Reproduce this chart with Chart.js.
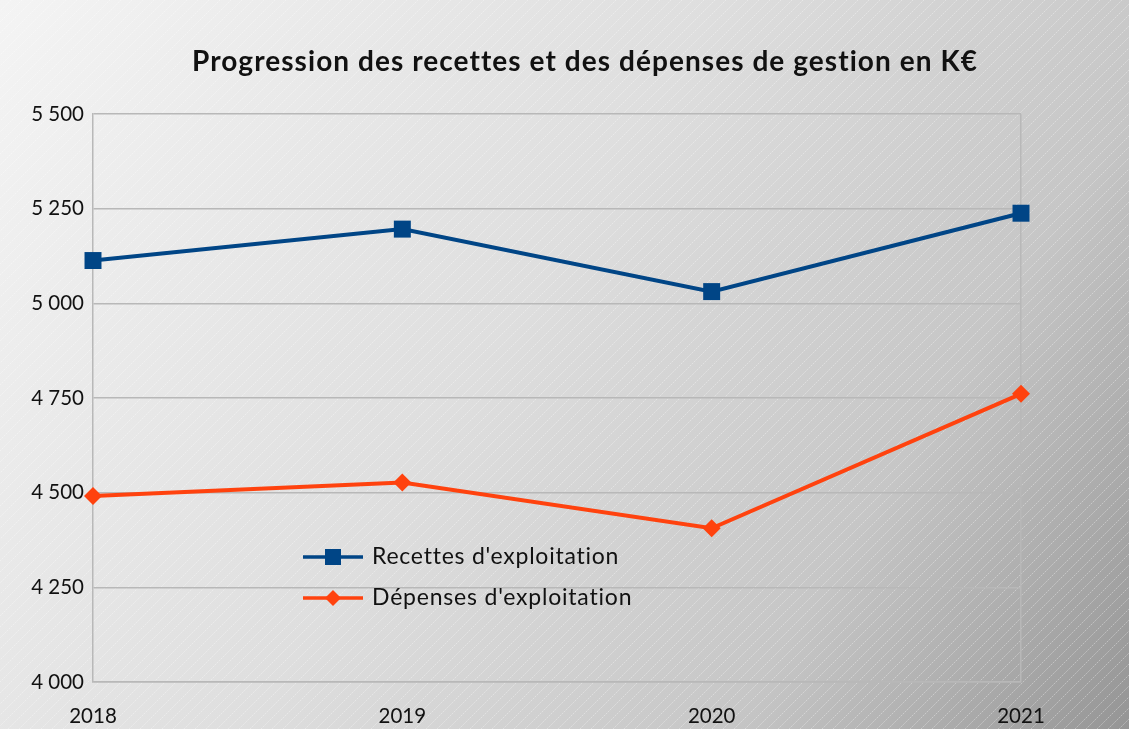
<!DOCTYPE html>
<html>
<head>
<meta charset="utf-8">
<script src="https://cdn.jsdelivr.net/npm/chart.js@4"></script>
<style>
  html, body { margin: 0; padding: 0; background: #fff; }
  #wrap { width: 1129px; height: 729px; }
</style>
</head>
<body>
<div id="wrap"><canvas id="progChart" width="1129" height="729"></canvas></div>
<script>
// chart data
const years = ['2018', '2019', '2020', '2021'];
const recettes = [5113, 5196, 5031, 5238];
const depenses = [4491, 4527, 4406, 4761];
const seriesNames = ["Recettes d'exploitation", "Dépenses d'exploitation"];
const chartTitle = 'Progression des recettes et des dépenses de gestion en K€';
const yMin = 4000;
const yMax = 5500;
const yStep = 250;

const FONT = 'Lato, "Liberation Sans", sans-serif';
const gridColor = '#b8b8b8';

// draw text stretched with letter spacing to a target width (office export looks spaced out)
function spacedText(ctx, text, x, y, targetWidth) {
  ctx.letterSpacing = '0px';
  const w = ctx.measureText(text).width;
  const sp = Math.max(0, (targetWidth - w) / (text.length - 1));
  ctx.letterSpacing = sp.toFixed(2) + 'px';
  ctx.fillText(text, x, y);
  ctx.letterSpacing = '0px';
}

// gradient + hatched background
const backgroundPlugin = {
  id: 'hatchBg',
  beforeDraw(chart) {
    const { ctx, width, height } = chart;
    ctx.save();
    const g = ctx.createLinearGradient(0, 0, width, height);
    g.addColorStop(0, '#f4f4f4');
    g.addColorStop(0.45, '#dedede');
    g.addColorStop(0.75, '#c6c6c6');
    g.addColorStop(1, '#959595');
    ctx.fillStyle = g;
    ctx.fillRect(0, 0, width, height);

    ctx.strokeStyle = 'rgba(255,255,255,0.35)';
    ctx.lineWidth = 1;
    ctx.setLineDash([2, 1]);
    for (let x = -height; x < width + height; x += 11) {
      ctx.beginPath();
      ctx.moveTo(x, height);
      ctx.lineTo(x + height, 0);
      ctx.stroke();
    }
    ctx.restore();
  }
};

// title centred on the whole picture
const titlePlugin = {
  id: 'pageTitle',
  afterDraw(chart) {
    const { ctx } = chart;
    ctx.save();
    ctx.fillStyle = '#111';
    ctx.font = 'bold 28px ' + FONT;
    ctx.textBaseline = 'middle';
    ctx.textAlign = 'left';
    spacedText(ctx, chartTitle, 192, 62, 784);
    ctx.restore();
  }
};

// legend drawn inside the plot area
const innerLegend = {
  id: 'innerLegend',
  afterDraw(chart) {
    const { ctx } = chart;
    const rows = [557, 598];
    const widths = [246, 260];
    ctx.save();
    chart.data.datasets.forEach((ds, i) => {
      const y = rows[i];
      ctx.strokeStyle = ds.borderColor;
      ctx.lineWidth = 3.5;
      ctx.beginPath();
      ctx.moveTo(303, y);
      ctx.lineTo(363, y);
      ctx.stroke();
      ctx.fillStyle = ds.borderColor;
      if (ds.pointStyle === 'rect') {
        ctx.fillRect(325, y - 8, 16, 16);
      } else {
        ctx.beginPath();
        ctx.moveTo(333, y - 8);
        ctx.lineTo(341, y);
        ctx.lineTo(333, y + 8);
        ctx.lineTo(325, y);
        ctx.closePath();
        ctx.fill();
      }
      ctx.fillStyle = '#111';
      ctx.font = '23px ' + FONT;
      ctx.textBaseline = 'middle';
      ctx.textAlign = 'left';
      spacedText(ctx, ds.label, 372, y, widths[i]);
    });
    ctx.restore();
  }
};

const chart = new Chart(document.getElementById('progChart'), {
  type: 'line',
  data: {
    labels: years,
    datasets: [
      {
        label: seriesNames[0],
        data: recettes,
        borderColor: '#004586',
        backgroundColor: '#004586',
        borderWidth: 4,
        pointStyle: 'rect',
        pointRadius: 12,
        pointBorderWidth: 0,
        tension: 0
      },
      {
        label: seriesNames[1],
        data: depenses,
        borderColor: '#ff420e',
        backgroundColor: '#ff420e',
        borderWidth: 4,
        pointStyle: 'rectRot',
        pointRadius: 9,
        pointBorderWidth: 0,
        tension: 0
      }
    ]
  },
  options: {
    responsive: false,
    animation: false,
    layout: {
      padding: { top: 114, right: 108, bottom: 0, left: 0 }
    },
    plugins: {
      legend: { display: false },
      tooltip: { enabled: false },
      title: { display: false }
    },
    scales: {
      x: {
        offset: false,
        afterFit(scale) { scale.height = 47; },
        grid: {
          drawTicks: false,
          lineWidth: 1.5,
          color: ctx => (ctx.index === years.length - 1 ? gridColor : 'transparent')
        },
        border: { display: true, color: gridColor, width: 1.5 },
        ticks: {
          color: '#111',
          padding: 22,
          maxRotation: 0,
          font: { family: FONT, size: 20.5 }
        }
      },
      y: {
        min: yMin,
        max: yMax,
        afterFit(scale) { scale.width = 93; },
        grid: { drawTicks: false, color: gridColor, lineWidth: 1.5 },
        border: { display: true, color: gridColor, width: 1.5 },
        ticks: {
          stepSize: yStep,
          color: '#111',
          padding: 9,
          font: { family: FONT, size: 20.5 },
          callback: v => String(v).replace(/\B(?=(\d{3})+(?!\d))/g, ' ')
        }
      }
    }
  },
  plugins: [backgroundPlugin, titlePlugin, innerLegend]
});
</script>
</body>
</html>
